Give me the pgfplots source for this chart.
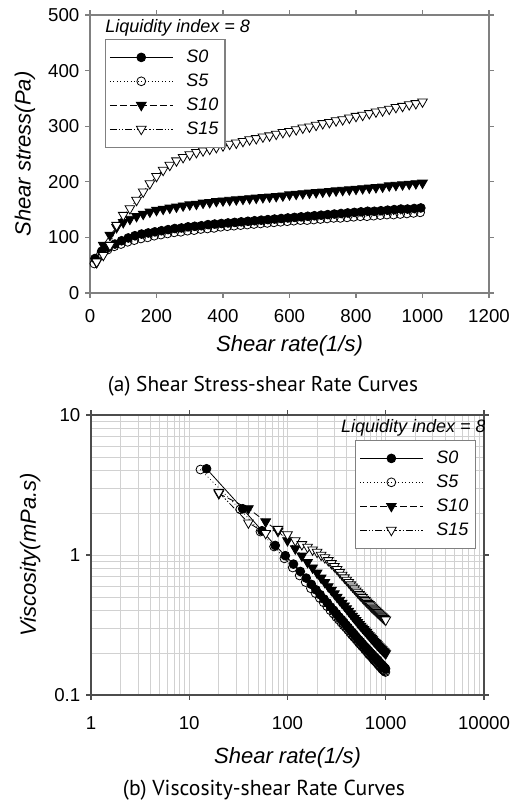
\documentclass[border=0pt]{standalone}
\usepackage{fontspec}
\setmainfont{Liberation Sans}
\newfontfamily\capfont{PT Sans}
\usepackage{pgfplots}
\usepackage{pgfplotstable}
\pgfplotsset{compat=1.18}

% columns: shear rate, shear stress (Pa), viscosity
\pgfplotstableread{
rate stress visc
15 62 4.13
35 75 2.14
55 82 1.49
75 88 1.17
95 94 0.989
115 99 0.861
135 103 0.763
155 106 0.684
175 108 0.617
195 110 0.564
215 112 0.521
235 114 0.485
255 116 0.455
275 117 0.425
295 119 0.403
315 120 0.381
335 121 0.361
355 123 0.346
375 124 0.331
395 125 0.316
415 126 0.304
435 127 0.292
455 128 0.281
475 129 0.272
495 130 0.263
515 131 0.254
535 132 0.247
555 133 0.240
575 134 0.233
595 135 0.227
615 136 0.221
635 137 0.216
655 138 0.211
675 139 0.206
695 140 0.201
715 141 0.197
735 142 0.193
755 143 0.189
775 144 0.186
795 145 0.182
815 146 0.179
835 147 0.176
855 147 0.172
875 148 0.169
895 149 0.166
915 150 0.164
935 151 0.161
955 151 0.158
975 152 0.156
995 153 0.154
}\tabSa

\pgfplotstableread{
rate stress visc
13 53 4.08
33 70 2.12
53 78 1.47
73 84 1.15
93 88 0.946
113 92 0.814
133 95 0.714
153 98 0.641
173 100 0.578
193 103 0.534
213 105 0.493
233 107 0.459
253 109 0.431
273 110 0.403
293 112 0.382
313 113 0.361
333 115 0.345
353 116 0.329
373 117 0.314
393 119 0.303
413 120 0.291
433 121 0.279
453 122 0.269
473 123 0.260
493 124 0.252
513 125 0.244
533 126 0.236
553 127 0.230
573 128 0.223
593 129 0.218
613 130 0.212
633 131 0.207
653 131 0.201
673 132 0.196
693 133 0.192
713 134 0.188
733 135 0.184
753 135 0.179
773 136 0.176
793 137 0.173
813 138 0.170
833 138 0.166
853 139 0.163
873 140 0.160
893 141 0.158
913 141 0.154
933 142 0.152
953 143 0.150
973 144 0.148
993 145 0.146
}\tabSb

\pgfplotstableread{
rate stress visc
20 55 2.75
40 86 2.15
60 104 1.73
80 118 1.48
100 127 1.27
120 133 1.11
140 138 0.986
160 142 0.888
180 146 0.811
200 149 0.745
220 151 0.686
240 153 0.638
260 155 0.596
280 157 0.561
300 159 0.530
320 160 0.500
340 162 0.476
360 163 0.453
380 165 0.434
400 166 0.415
420 167 0.398
440 168 0.382
460 169 0.367
480 170 0.354
500 171 0.342
520 172 0.331
540 173 0.320
560 174 0.311
580 175 0.302
600 177 0.295
620 178 0.287
640 179 0.280
660 180 0.273
680 181 0.266
700 182 0.260
720 183 0.254
740 184 0.249
760 185 0.243
780 186 0.238
800 187 0.234
820 188 0.229
840 189 0.225
860 190 0.221
880 191 0.217
900 193 0.214
920 194 0.211
940 195 0.207
960 196 0.204
980 197 0.201
1000 198 0.198
}\tabSc

\pgfplotstableread{
rate stress visc
20 56 2.80
40 68 1.70
60 86 1.43
80 122 1.53
100 140 1.40
120 152 1.27
140 167 1.19
160 182 1.14
180 197 1.09
200 210 1.05
220 221 1.00
240 230 0.958
260 238 0.915
280 244 0.871
300 249 0.830
320 253 0.791
340 256 0.753
360 259 0.719
380 262 0.689
400 265 0.663
420 268 0.638
440 270 0.614
460 273 0.593
480 276 0.575
500 278 0.556
520 281 0.540
540 283 0.524
560 286 0.511
580 289 0.498
600 291 0.485
620 294 0.474
640 297 0.464
660 299 0.453
680 302 0.444
700 305 0.436
720 307 0.426
740 310 0.419
760 312 0.411
780 315 0.404
800 318 0.398
820 320 0.390
840 323 0.385
860 326 0.379
880 328 0.373
900 331 0.368
920 334 0.363
940 336 0.357
960 339 0.353
980 341 0.348
1000 344 0.344
}\tabSd

\pgfplotsset{
  every axis/.append style={
    scale only axis,
    /pgf/number format/assume math mode=true,
    /pgf/number format/1000 sep={},
    tick align=outside,
    major tick length=3.5pt,
    minor tick length=0pt,
    ticklabel style={font=\fontsize{14}{16}\selectfont},
    label style={font=\itshape\fontsize{16.5}{19}\selectfont},
    legend cell align=left,
    legend image code/.code={
      \draw[mark repeat=2,mark phase=2,#1] plot coordinates {(0pt,0pt) (23.5pt,0pt) (47pt,0pt)};},
  },
  mylegend/.style={
    draw=black!50, line width=0.8pt, fill=white,
    font=\itshape\fontsize{13.5}{16}\selectfont,
    inner xsep=3pt, inner ysep=6pt, row sep=3pt,
    nodes={inner xsep=2pt},
    /tikz/every odd column/.append style={column sep=8pt}},
  sS0/.style={black, line width=0.6pt, solid, mark=*, mark size=3.3pt, mark options={solid, fill=black}},
  sS5/.style={black, line width=0.6pt, dotted, mark=o, mark size=3.3pt, mark options={solid, fill=white}},
  sS10/.style={black, line width=0.6pt, dash pattern=on 5pt off 2.5pt, mark=triangle*, mark size=4.2pt, mark options={solid, rotate=180, fill=black}},
  sS15/.style={black, line width=0.6pt, dash pattern=on 5pt off 1.5pt on 1pt off 1.5pt on 1pt off 1.5pt, mark=triangle*, mark size=4.2pt, mark options={solid, rotate=180, fill=white}},
}

\begin{document}
\begin{tikzpicture}
\useasboundingbox (0pt,0pt) rectangle (396pt,-603.75pt);

\begin{axis}[
  at={(67.5pt,-219.75pt)}, anchor=south west,
  width=299.25pt, height=208.5pt,
  xmin=0, xmax=1200, ymin=0, ymax=500,
  xtick={0,200,...,1200}, ytick={0,100,...,500},
  xticklabel shift=5pt, yticklabel shift=1pt,
  axis line style={draw=black!50, line width=1pt},
  tick style={draw=black!50, line width=0.8pt},
  xlabel={Shear rate(1/s)}, ylabel={Shear stress(Pa)},
  xlabel style={at={(axis description cs:0.5,-0.19)}, anchor=center},
  ylabel style={at={(axis description cs:-0.163,0.5)}, anchor=center},
  legend style={mylegend, at={(axis description cs:0.0376,0.914)}, anchor=north west},
]
\addplot[sS0] table[x=rate, y=stress] {\tabSa};
\addplot[sS5] table[x=rate, y=stress] {\tabSb};
\addplot[sS10] table[x=rate, y=stress] {\tabSc};
\addplot[sS15] table[x=rate, y=stress] {\tabSd};
\legend{S0, S5, S10, S15}
\node[anchor=west, font=\itshape\fontsize{13.5}{16}\selectfont, inner sep=0pt]
  at (axis description cs:0.0376,0.953) {Liquidity index = 8};
\end{axis}

\node[inner sep=0pt] at (197.25pt,-289.5pt)
  {\resizebox{232.5pt}{!}{\capfont (a) Shear Stress-shear Rate Curves}};

\begin{axis}[
  at={(68.25pt,-521.25pt)}, anchor=south west,
  width=294.75pt, height=210pt,
  xmode=log, ymode=log,
  xmin=1, xmax=10000, ymin=0.1, ymax=10,
  xtick={1,10,100,1000,10000}, xticklabels={1,10,100,1000,10000},
  ytick={0.1,1,10}, yticklabels={0.1,1,10},
  minor xtick={2,3,4,5,6,7,8,9,20,30,40,50,60,70,80,90,200,300,400,500,600,700,800,900,2000,3000,4000,5000,6000,7000,8000,9000},
  minor ytick={0.2,0.3,0.4,0.5,0.6,0.7,0.8,0.9,2,3,4,5,6,7,8,9},
  xticklabel shift=9pt, yticklabel shift=1pt,
  grid=both,
  major grid style={draw=black!18, line width=0.6pt},
  minor grid style={draw=black!18, line width=0.5pt},
  axis line style={draw=black!70, line width=1pt},
  tick style={draw=black!70, line width=0.8pt},
  xlabel={Shear rate(1/s)}, ylabel={Viscosity(mPa.s)},
  xlabel style={at={(axis description cs:0.5,-0.225)}, anchor=center},
  ylabel style={at={(axis description cs:-0.155,0.5)}, anchor=center},
  legend style={mylegend, at={(axis description cs:0.672,0.911)}, anchor=north west},
]
\addplot[sS0] table[x=rate, y=visc] {\tabSa};
\addplot[sS5] table[x=rate, y=visc] {\tabSb};
\addplot[sS10] table[x=rate, y=visc] {\tabSc};
\addplot[sS15] table[x=rate, y=visc] {\tabSd};
\legend{S0, S5, S10, S15}
\node[anchor=east, font=\itshape\fontsize{13.5}{16}\selectfont, inner sep=0pt]
  at (axis description cs:1.005,0.954) {Liquidity index = 8};
\end{axis}

\node[inner sep=0pt] at (198pt,-592.5pt)
  {\resizebox{211.5pt}{!}{\capfont (b) Viscosity-shear Rate Curves}};
\end{tikzpicture}
\end{document}
